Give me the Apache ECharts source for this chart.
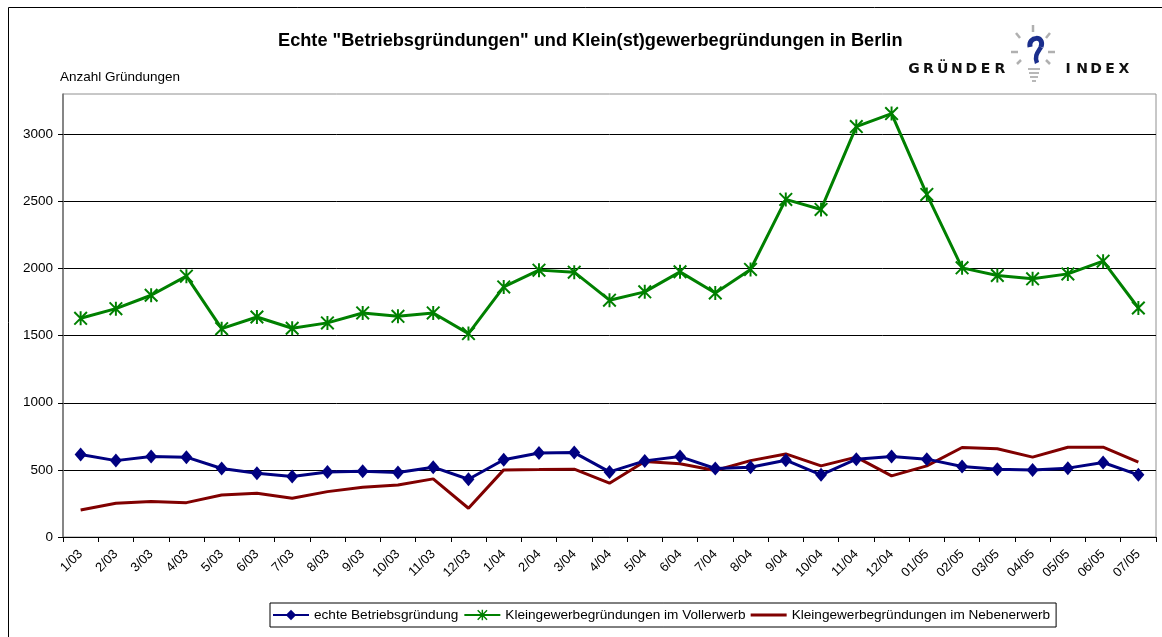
<!DOCTYPE html>
<html>
<head>
<meta charset="utf-8">
<script src="https://cdn.jsdelivr.net/npm/echarts@6/dist/echarts.min.js"></script>
<style>
html,body{margin:0;padding:0;background:#fff;}
#chart{width:1162px;height:637px;}
</style>
</head>
<body>
<div id="chart"></div>
<script>
var categories = ['1/03','2/03','3/03','4/03','5/03','6/03','7/03','8/03','9/03','10/03','11/03','12/03',
  '1/04','2/04','3/04','4/04','5/04','6/04','7/04','8/04','9/04','10/04','11/04','12/04',
  '01/05','02/05','03/05','04/05','05/05','06/05','07/05'];
var echteBetriebsgruendung = [615,569,599,595,510,475,450,485,490,480,520,430,
  575,625,629,485,567,599,510,520,572,463,580,599,
  580,525,505,500,513,555,463];
var kleingewerbeVollerwerb = [1629,1701,1801,1943,1552,1639,1555,1595,1669,1644,1669,1515,
  1863,1988,1973,1764,1826,1975,1818,1993,2515,2440,3057,3154,
  2552,2005,1948,1923,1960,2055,1706];
var kleingewerbeNebenerwerb = [201,251,264,256,313,326,289,338,371,388,433,214,
  500,502,505,401,562,545,495,569,619,530,595,455,
  530,667,657,595,669,669,557];
var yTicks = [0,500,1000,1500,2000,2500,3000];
var seriesNames = ['echte Betriebsgründung','Kleingewerbegründungen im Vollerwerb','Kleingewerbegründungen im Nebenerwerb'];
var titleText = 'Echte "Betriebsgründungen" und Klein(st)gewerbegründungen in Berlin';
var yAxisName = 'Anzahl Gründungen';

var FONT = '"Liberation Sans", Arial, sans-serif';
var starPath = 'path://M4.3 0 L5.7 0 L5.7 10 L4.3 10 Z M0 1 L1 0 L10 9 L9 10 Z M9 0 L10 1 L1 10 L0 9 Z';

function letters(str, x0, step, y) {
  var out = [];
  for (var i = 0; i < str.length; i++) {
    out.push({type:'text', x: x0 + i*step, y: y, style:{text: str[i], font: 'bold 14px "DejaVu Sans", sans-serif', fill:'#111', textAlign:'center', textVerticalAlign:'middle'}, silent:true});
  }
  return out;
}
var rayStyle = {stroke:'#b0b0b0', lineWidth:2.5};
var baseStyle = {stroke:'#b8b8b8', lineWidth:2};
var logo = [].concat(
  letters('GRÜNDER', 914, 14.3, 69),
  letters('INDEX', 1068, 14, 69),
  [
    {type:'line', shape:{x1:1033,y1:25,x2:1033,y2:32}, style:rayStyle, silent:true},
    {type:'line', shape:{x1:1016,y1:33,x2:1020,y2:38}, style:rayStyle, silent:true},
    {type:'line', shape:{x1:1050,y1:33,x2:1046,y2:38}, style:rayStyle, silent:true},
    {type:'line', shape:{x1:1011,y1:52,x2:1018,y2:52}, style:rayStyle, silent:true},
    {type:'line', shape:{x1:1048,y1:52,x2:1055,y2:52}, style:rayStyle, silent:true},
    {type:'line', shape:{x1:1017,y1:64,x2:1021,y2:60}, style:rayStyle, silent:true},
    {type:'line', shape:{x1:1050,y1:64,x2:1046,y2:60}, style:rayStyle, silent:true},
    {type:'bezierCurve', shape:{x1:1030,y1:47,cpx1:1028,cpy1:36,cpx2:1045,cpy2:35,x2:1041,y2:47}, style:{stroke:'#1a2e8c', lineWidth:5, fill:'none'}, silent:true},
    {type:'bezierCurve', shape:{x1:1041,y1:47,cpx1:1038,cpy1:52,cpx2:1034,cpy2:56,x2:1037,y2:63}, style:{stroke:'#1a2e8c', lineWidth:4.5, fill:'none'}, silent:true},
    {type:'line', shape:{x1:1028,y1:69,x2:1040,y2:69}, style:baseStyle, silent:true},
    {type:'line', shape:{x1:1029,y1:73,x2:1039,y2:73}, style:baseStyle, silent:true},
    {type:'line', shape:{x1:1030,y1:77,x2:1038,y2:77}, style:baseStyle, silent:true},
    {type:'line', shape:{x1:1032,y1:81,x2:1036,y2:81}, style:baseStyle, silent:true}
  ]
);

var chart = echarts.init(document.getElementById('chart'), null, {renderer:'canvas'});
chart.setOption({
  animation:false,
  backgroundColor:'#fff',
  textStyle:{fontFamily:FONT},
  title:{text:titleText, left:273, top:27, textStyle:{fontFamily:FONT, fontWeight:'bold', fontSize:18.2, color:'#000'}},
  graphic:[{type:'rect', shape:{x:8.5,y:7.5,width:1200,height:700}, style:{fill:'none', stroke:'#000', lineWidth:1}, silent:true, z:-10},
    {type:'text', x:60, y:70, style:{text:yAxisName, font:'13.5px "Liberation Sans", Arial, sans-serif', fill:'#000'}, silent:true}
  ].concat(logo),
  legend:{
    left:270, top:603, orient:'horizontal',
    data:[
      {name:seriesNames[0]},
      {name:seriesNames[1]},
      {name:seriesNames[2], icon:'path://M0 0 L36 0 L36 3 L0 3 Z', itemStyle:{color:'#800000'}}
    ],
    borderColor:'#000', borderWidth:1, padding:[5,6,5,2],
    itemWidth:36, itemHeight:13, itemGap:5,
    textStyle:{fontFamily:FONT, fontSize:13.6, color:'#000'}
  },
  grid:{left:63, right:6, top:94, bottom:100, show:true, borderColor:'#909090', borderWidth:1},
  xAxis:{
    type:'category', data:categories, boundaryGap:true,
    axisLine:{lineStyle:{color:'#000', width:1}},
    axisTick:{show:true, interval:0, length:5, lineStyle:{color:'#000'}},
    axisLabel:{interval:0, rotate:45, fontFamily:FONT, fontSize:13, color:'#000', margin:15},
    splitLine:{show:false}
  },
  yAxis:{
    type:'value', min:0, max:3300, interval:500,
    axisLine:{show:true, lineStyle:{color:'#707070', width:1.5}},
    axisTick:{show:true, length:5, customValues:yTicks, lineStyle:{color:'#000'}},
    axisLabel:{fontFamily:FONT, fontSize:13.5, color:'#000', margin:10, customValues:yTicks,
      formatter:function(v){return String(v);}},
    splitLine:{show:true, lineStyle:{color:['#000','#000','#000','#000','#000','#000','#000','#909090'], width:1}}
  },
  series:[
    {name:seriesNames[0], type:'line', data:echteBetriebsgruendung, color:'#000080',
     lineStyle:{width:3, color:'#000080'}, symbol:'diamond', symbolSize:[12,14], showAllSymbol:true,
     itemStyle:{color:'#000080'}, z:3},
    {name:seriesNames[1], type:'line', data:kleingewerbeVollerwerb, color:'#008000',
     lineStyle:{width:3, color:'#008000'}, symbol:starPath, symbolSize:14, showAllSymbol:true,
     itemStyle:{color:'#008000'}, z:3},
    {name:seriesNames[2], type:'line', data:kleingewerbeNebenerwerb, color:'#800000',
     lineStyle:{width:3, color:'#800000'}, symbol:'none', showSymbol:false, z:2}
  ]
});
</script>
</body>
</html>
